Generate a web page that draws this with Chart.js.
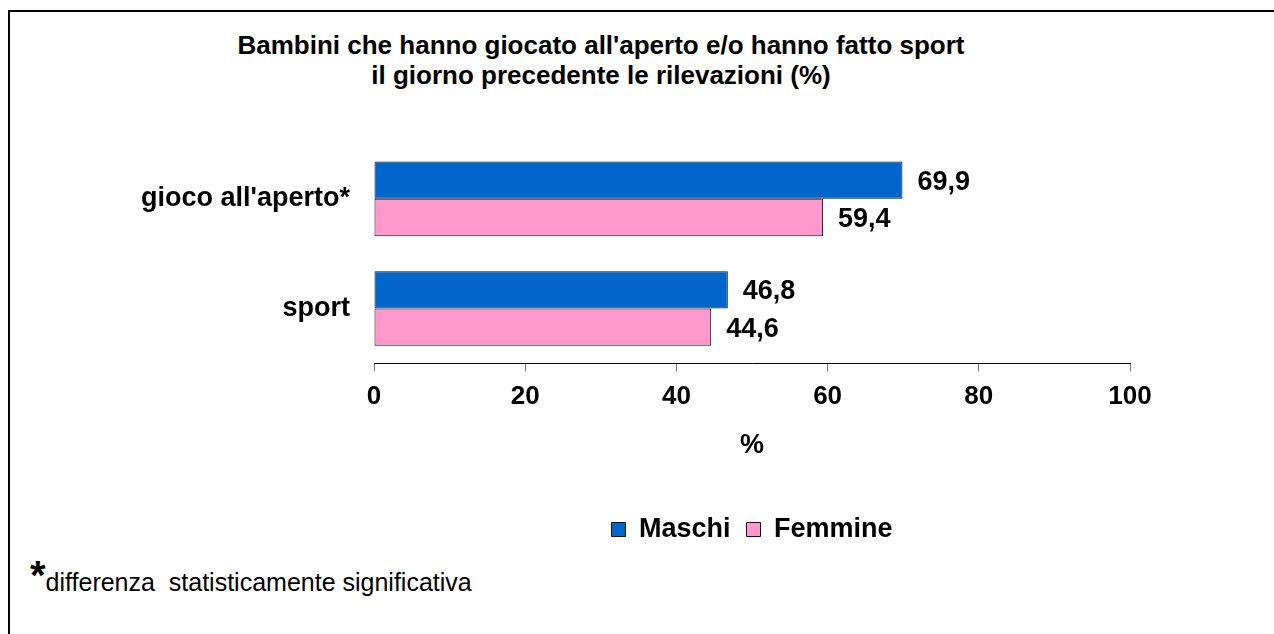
<!DOCTYPE html>
<html>
<head>
<meta charset="utf-8">
<script src="https://cdn.jsdelivr.net/npm/chart.js@4"></script>
<style>
  html, body { margin: 0; padding: 0; background: #fff; overflow: hidden; }
  body { width: 1274px; height: 634px; position: relative; font-family: "Liberation Sans", Arial, sans-serif; }
  #frame { position: absolute; left: 8px; top: 10px; width: 1400px; height: 800px; border: 2px solid #000; box-sizing: border-box; }
  #title { position: absolute; left: 101px; width: 1000px; top: 30px; text-align: center; font-weight: bold; font-size: 26px; line-height: 30px; color: #000; }
  #note { position: absolute; left: 30px; top: 567px; font-size: 25px; line-height: 30px; color: #000; white-space: nowrap; }
  #note b { font-size: 40px; line-height: 0; position: relative; top: -2px; }
  canvas { position: absolute; left: 0; top: 0; }
</style>
</head>
<body>
<div id="frame"></div>
<div id="title">Bambini che hanno giocato all'aperto e/o hanno fatto sport<br>il giorno precedente le rilevazioni (%)</div>
<div id="note"><b>*</b>differenza&nbsp; statisticamente significativa</div>
<canvas id="chart" width="1274" height="634"></canvas>
<script>
var categories = ["gioco all'aperto*", "sport"];
var maschi = [69.9, 46.8];
var femmine = [59.4, 44.6];
var xTicks = [0, 20, 40, 60, 80, 100];

Chart.defaults.font.family = "'Liberation Sans', Arial, sans-serif";
Chart.defaults.color = "#000";

// value labels at the end of each bar
var valueLabels = {
    id: 'valueLabels',
    afterDatasetsDraw: function(chart) {
        var ctx = chart.ctx;
        ctx.save();
        ctx.font = "bold 27px 'Liberation Sans', Arial, sans-serif";
        ctx.fillStyle = "#000";
        ctx.textAlign = "left";
        ctx.textBaseline = "middle";
        chart.data.datasets.forEach(function(ds, i) {
            chart.getDatasetMeta(i).data.forEach(function(bar, j) {
                ctx.fillText(ds.data[j].toFixed(1).replace('.', ','), bar.x + 15, bar.y + 2);
            });
        });
        ctx.restore();
    }
};

var ctx = document.getElementById("chart");
var chart = new Chart(ctx, {
    type: 'bar',
    data: {
        labels: categories,
        datasets: [{
            label: "Maschi",
            data: maschi,
            backgroundColor: "#0066cc",
            borderColor: "#111",
            borderWidth: 1,
            borderSkipped: false
        }, {
            label: "Femmine",
            data: femmine,
            backgroundColor: "#ff99cc",
            borderColor: "#111",
            borderWidth: 1,
            borderSkipped: false
        }]
    },
    options: {
        indexAxis: 'y',
        responsive: false,
        animation: false,
        devicePixelRatio: 1,
        layout: {
            padding: { top: 144, right: 144, bottom: 81, left: 138 }
        },
        datasets: {
            bar: { barPercentage: 1, categoryPercentage: 0.68 }
        },
        scales: {
            x: {
                min: 0,
                max: 100,
                afterBuildTicks: function(axis) {
                    axis.ticks = xTicks.map(function(v) { return { value: v }; });
                },
                grid: { display: true, drawOnChartArea: false, drawTicks: true, tickLength: 8, color: "#777" },
                border: { display: true, color: "#000", width: 1 },
                ticks: { font: { size: 26, weight: 'bold' }, padding: 10, maxRotation: 0 },
                title: { display: true, text: "%", font: { size: 27, weight: 'bold' }, padding: { top: 7, bottom: 38 } }
            },
            y: {
                afterFit: function(axis) { axis.width = 236; },
                grid: { display: false, drawTicks: false },
                border: { display: false },
                ticks: { font: { size: 27, weight: 'bold' }, padding: 24 }
            }
        },
        plugins: {
            title: { display: false },
            tooltip: { enabled: false },
            legend: {
                display: true,
                position: 'bottom',
                fullSize: false,
                labels: {
                    boxWidth: 14,
                    boxHeight: 14,
                    padding: 16,
                    font: { size: 27, weight: 'bold' }
                }
            }
        }
    },
    plugins: [valueLabels]
});
</script>
</body>
</html>
